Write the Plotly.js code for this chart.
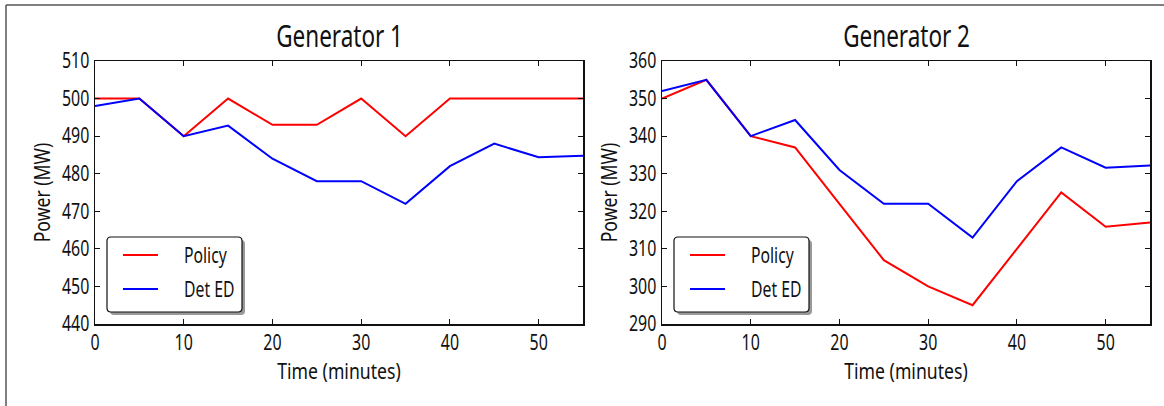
<!DOCTYPE html>
<html>
<head>
<meta charset="utf-8">
<script src="https://cdn.plot.ly/plotly-3.0.1.min.js"></script>
<style>html,body{margin:0;padding:0;background:#fff;}#chart{width:1164px;height:406px;}</style>
</head>
<body>
<div id="chart"></div>
<script>
// ---- data ----
const timeMinutes = [0, 5, 10, 15, 20, 25, 30, 35, 40, 45, 50, 55];
const gen1Policy = [500, 500, 490, 500, 493, 493, 500, 490, 500, 500, 500, 500];
const gen1DetED  = [498, 500, 490, 492.8, 484, 478, 478, 472, 482, 488, 484.4, 484.8];
const gen2Policy = [350, 355, 340, 337, 322, 307, 300, 295, 310, 325, 315.9, 317];
const gen2DetED  = [352, 355, 340, 344.3, 331, 322, 322, 313, 328, 337, 331.6, 332.2];
const seriesNames = ["Policy", "Det ED"];
const seriesColors = ["#ff0000", "#0000ff"];
const panelTitles = ["Generator 1", "Generator 2"];
const xTitle = "Time (minutes)";
const yTitle = "Power (MW)";

// ---- layout geometry (pixels) ----
const W = 1164, H = 406;
const M = {l: 95, r: 14, t: 61, b: 82};
const PW = W - M.l - M.r, PH = H - M.t - M.b;
const px = v => (v - M.l) / PW;
const py = v => (H - M.b - v) / PH;
const FONT = '"Noto Sans", "Open Sans", sans-serif';
const INK = '#111';

const panels = [
  {series: [gen1Policy, gen1DetED], xa: 'x', ya: 'y', x0: 95, x1: 583},
  {series: [gen2Policy, gen2DetED], xa: 'x2', ya: 'y2', x0: 662, x1: 1150}
];

const traces = [];
panels.forEach(p => {
  p.series.forEach((s, i) => {
    traces.push({
      x: timeMinutes, y: s, type: 'scatter', mode: 'lines',
      name: seriesNames[i], xaxis: p.xa, yaxis: p.ya, showlegend: false,
      line: {color: seriesColors[i], width: 2}
    });
  });
});

function axisBase() {
  return {
    showgrid: false, zeroline: false, showline: true, linecolor: INK, linewidth: 1.5,
    mirror: 'allticks', ticks: 'inside', ticklen: 5, tickwidth: 1, tickcolor: INK,
    tickfont: {family: FONT, size: 21, color: INK}, fixedrange: true
  };
}

const shapes = [], annotations = [];
const leftAnnots = [];

// outer frame (top + left)
shapes.push({type: 'line', xref: 'paper', yref: 'paper', x0: px(6), x1: px(1164), y0: py(5), y1: py(5), line: {color: '#555', width: 1.5}});
shapes.push({type: 'line', xref: 'paper', yref: 'paper', x0: px(6), x1: px(6), y0: py(5), y1: py(406), line: {color: '#555', width: 1.5}});

function roundRect(x0, y0, x1, y1, r) {
  const P = (a, b) => px(a) + ',' + py(b);
  return 'M' + P(x0 + r, y0) + ' L' + P(x1 - r, y0) + ' Q' + P(x1, y0) + ' ' + P(x1, y0 + r) +
    ' L' + P(x1, y1 - r) + ' Q' + P(x1, y1) + ' ' + P(x1 - r, y1) +
    ' L' + P(x0 + r, y1) + ' Q' + P(x0, y1) + ' ' + P(x0, y1 - r) +
    ' L' + P(x0, y0 + r) + ' Q' + P(x0, y0) + ' ' + P(x0 + r, y0) + ' Z';
}

panels.forEach((p, k) => {
  const bx = p.x0 + 12, by = 237, bw = 135, bh = 75;
  shapes.push({type: 'path', xref: 'paper', yref: 'paper', path: roundRect(bx + 3, by + 3, bx + bw + 3, by + bh + 3, 4), fillcolor: '#999999', line: {width: 0}});
  shapes.push({type: 'path', xref: 'paper', yref: 'paper', path: roundRect(bx, by, bx + bw, by + bh, 4), fillcolor: '#ffffff', line: {color: INK, width: 1.2}});
  seriesNames.forEach((nm, i) => {
    const yy = 255 + i * 34;
    shapes.push({type: 'line', xref: 'paper', yref: 'paper', x0: px(bx + 16), x1: px(bx + 51), y0: py(yy), y1: py(yy), line: {color: seriesColors[i], width: 2}});
    leftAnnots.push(annotations.length);
    annotations.push({xref: 'paper', yref: 'paper', x: px(bx + 75), y: py(yy), text: nm, showarrow: false, xanchor: 'left', yanchor: 'middle', font: {family: FONT, size: 21, color: INK}});
  });
  annotations.push({xref: 'paper', yref: 'paper', x: px((p.x0 + p.x1) / 2), y: py(58), text: panelTitles[k], showarrow: false, xanchor: 'center', yanchor: 'bottom', font: {family: FONT, size: 30, color: INK}});
});

const titleFont = {family: FONT, size: 21, color: INK};
const layout = {
  width: W, height: H, margin: M, paper_bgcolor: '#fff', plot_bgcolor: '#fff',
  showlegend: false,
  xaxis: Object.assign(axisBase(), {domain: [0, px(583)], range: [0, 55], dtick: 10, tick0: 0, anchor: 'y',
    title: {text: xTitle, font: titleFont, standoff: 3}}),
  yaxis: Object.assign(axisBase(), {domain: [0, 1], range: [440, 510], dtick: 10, tick0: 440, anchor: 'x',
    title: {text: yTitle, font: titleFont, standoff: 0}}),
  xaxis2: Object.assign(axisBase(), {domain: [px(662), 1], range: [0, 55], dtick: 10, tick0: 0, anchor: 'y2',
    title: {text: xTitle, font: titleFont, standoff: 3}}),
  yaxis2: Object.assign(axisBase(), {domain: [0, 1], range: [290, 360], dtick: 10, tick0: 290, anchor: 'x2',
    title: {text: yTitle, font: titleFont, standoff: 0}}),
  shapes: shapes, annotations: annotations
};

// condense text horizontally (reference uses a condensed typeface)
function squeeze(el, s, mode, pre) {
  const bb = el.getBBox();
  let ox = bb.x + bb.width / 2;
  if (mode === 'left') ox = bb.x;
  else if (mode === 'right') ox = bb.x + bb.width;
  const t = el.getAttribute('transform') || '';
  el.setAttribute('transform', (pre || '') + ' ' + t + ' translate(' + ox + ',0) scale(' + s + ',1) translate(' + (-ox) + ',0)');
}

Plotly.newPlot('chart', traces, layout, {displayModeBar: false, staticPlot: true}).then(gd => {
  gd.querySelectorAll('.xtick text, .x2tick text').forEach(el => squeeze(el, 0.76, 'center', 'translate(0,-1)'));
  gd.querySelectorAll('.ytick text, .y2tick text').forEach(el => squeeze(el, 0.76, 'right'));
  gd.querySelectorAll('.xtitle, .x2title').forEach(el => squeeze(el, 0.84, 'center'));
  gd.querySelectorAll('.ytitle, .y2title').forEach(el => squeeze(el, 0.84, 'center', 'translate(3,0)'));
  gd.querySelectorAll('g.annotation').forEach(g => {
    const idx = +g.getAttribute('data-index');
    const el = g.querySelector('text');
    if (!el) return;
    if (leftAnnots.indexOf(idx) >= 0) squeeze(el, 0.75, 'left');
    else squeeze(el, 0.75, 'center');
  });
});
</script>
</body>
</html>
